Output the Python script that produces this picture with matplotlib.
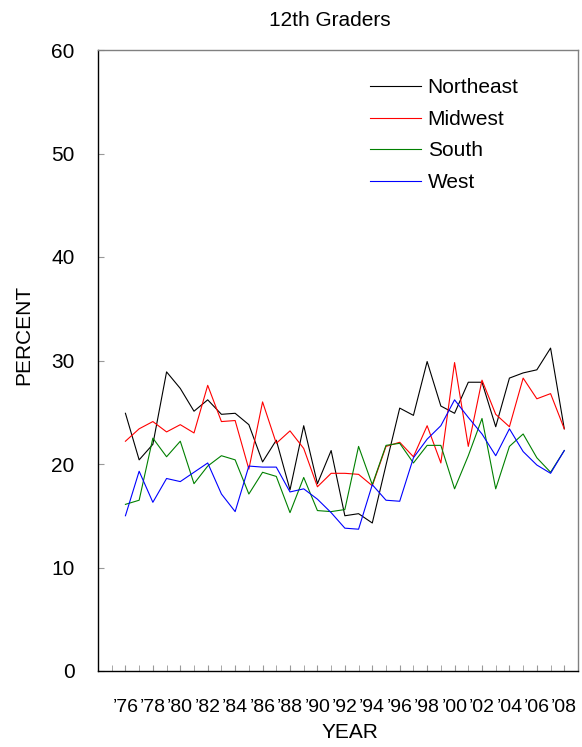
import numpy as np
import matplotlib
matplotlib.use("Agg")
import matplotlib.pyplot as plt

plt.rcParams['font.family'] = ['Liberation Sans', 'DejaVu Sans']

years = np.arange(1976, 2009)
northeast = [24.9, 20.4, 21.9, 28.9, 27.3, 25.1, 26.2, 24.8, 24.9, 23.8,
             20.2, 22.3, 17.5, 23.7, 18.1, 21.3, 15.0, 15.2, 14.3, 19.9,
             25.4, 24.7, 29.9, 25.6, 24.9, 27.9, 27.9, 23.6, 28.3, 28.8,
             29.1, 31.2, 23.4]
midwest = [22.2, 23.4, 24.1, 23.1, 23.8, 23.0, 27.6, 24.1, 24.2, 19.5,
           26.0, 22.0, 23.2, 21.5, 17.8, 19.1, 19.1, 19.0, 17.9, 21.7,
           22.1, 20.7, 23.7, 20.1, 29.8, 21.7, 28.1, 24.8, 23.6, 28.3,
           26.3, 26.8, 23.4]
south = [16.1, 16.5, 22.5, 20.7, 22.2, 18.1, 19.8, 20.8, 20.4, 17.1,
         19.2, 18.8, 15.3, 18.7, 15.5, 15.4, 15.6, 21.7, 18.0, 21.8,
         22.0, 20.1, 21.8, 21.8, 17.6, 20.8, 24.4, 17.6, 21.7, 22.9,
         20.6, 19.2, 21.3]
west = [15.0, 19.3, 16.3, 18.6, 18.3, 19.2, 20.1, 17.1, 15.4, 19.8,
        19.7, 19.7, 17.3, 17.6, 16.6, 15.3, 13.8, 13.7, 18.0, 16.5,
        16.4, 20.6, 22.4, 23.7, 26.2, 24.5, 22.9, 20.8, 23.4, 21.2,
        19.9, 19.1, 21.3]

series = [("Northeast", northeast, "#000000"),
          ("Midwest", midwest, "#ff0000"),
          ("South", south, "#008000"),
          ("West", west, "#0000ff")]

W, H = 582, 747
fig = plt.figure(figsize=(W / 100, H / 100), dpi=100)
ax = fig.add_axes([98 / W, (H - 671) / H, (578 - 98) / W, (671 - 50) / H])

for name, vals, col in series:
    ax.plot(years, vals, color=col, lw=0.8, label=name)

ax.set_xlim(1974, 2009)
ax.set_ylim(0, 60)
ax.set_yticks(np.arange(0, 61, 10))
ax.tick_params(axis='y', direction='in', length=4, color='#999999',
               labelsize=15, pad=17)
ax.set_xticks(np.arange(1975, 2009), minor=True)
ax.set_xticks(years[::2])
ax.set_xticklabels(["\u2019%02d" % (y % 100) for y in years[::2]])
ax.tick_params(axis='x', which='both', direction='in', length=4,
               color='#999999', labelsize=14, pad=20)

for s in ['left', 'bottom']:
    ax.spines[s].set_color('black')
for s in ['top', 'right']:
    ax.spines[s].set_color('#808080')
for s in ax.spines.values():
    s.set_linewidth(1.0)

fig.text(330 / W, 1 - 20 / H, "12th Graders", ha='center', va='center', fontsize=15)
fig.text(24 / W, 1 - 335 / H, "PERCENT", ha='center', va='center',
         rotation=90, fontsize=15)
fig.text(350 / W, 1 - 733 / H, "YEAR", ha='center', va='center', fontsize=15)

leg = ax.legend(loc='upper left', bbox_to_anchor=(362 / W, 1 - 70 / H),
                bbox_transform=fig.transFigure, frameon=False, fontsize=15,
                handlelength=2.45, handletextpad=0.3, labelspacing=0.6,
                borderaxespad=0)

fig.savefig("out.png", dpi=100)
